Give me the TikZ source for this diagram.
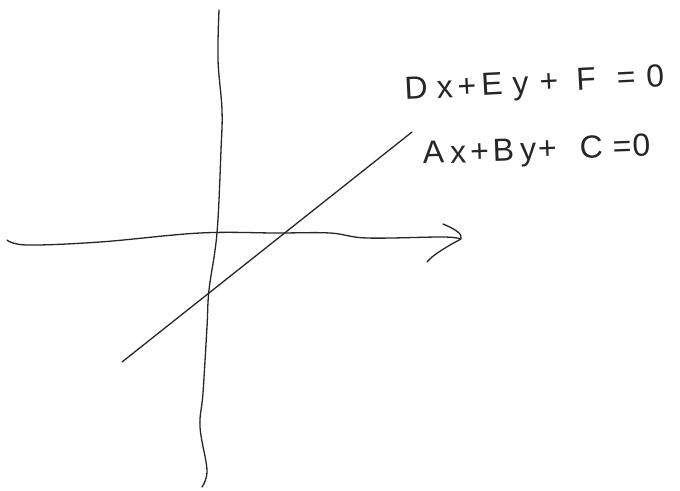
\documentclass[tikz,border=0pt]{standalone}
\usepackage{fontspec}
\setmainfont{Liberation Sans}
\tikzset{
  stroke/.style={line width=1.3pt, line cap=round, line join=round, black!85},
  eqn/.style={font=\fontsize{32}{32}\selectfont, inner sep=0pt, anchor=base west, black!85}
}
\newcommand\gp[1]{\hspace{#1pt}}
\begin{document}
\begin{tikzpicture}[x=1pt,y=-1pt]
\useasboundingbox (0,0) rectangle (680,490);
% horizontal axis
\draw[stroke] plot[smooth, tension=0.6] coordinates {(7,240) (27,245) (100,242) (200,233) (277,233) (330,233) (367,238) (443,237) (460,239)};
% arrowhead
\draw[stroke] (443,224) .. controls (455,229) and (463,234) .. (461,239) -- (450,245) .. controls (440,251) and (432,256) .. (427,262);
% vertical axis
\draw[stroke] plot[smooth, tension=0.6] coordinates {(219,10) (218,60) (222,110) (221,150) (217,233) (209,290) (207,327) (203,393) (200,427) (207,470) (202,487)};
% line
\coordinate (p1) at (122,362);
\coordinate (p2) at (412,132);
\draw[stroke] (p1) -- (p2);
% equations
\node[eqn, rotate=3] (e1) at (405,100) {D\gp{9}x\gp{5}+\gp{5}E\gp{10}y\gp{11}+\gp{18}F\gp{21}=\gp{11}0};
\node[eqn, rotate=2] (e2) at (423,164) {A\gp{6}x\gp{4}+\gp{4}B\gp{6}y\gp{2}+\gp{23}C\gp{10}=\gp{1}0};
\end{tikzpicture}
\end{document}
